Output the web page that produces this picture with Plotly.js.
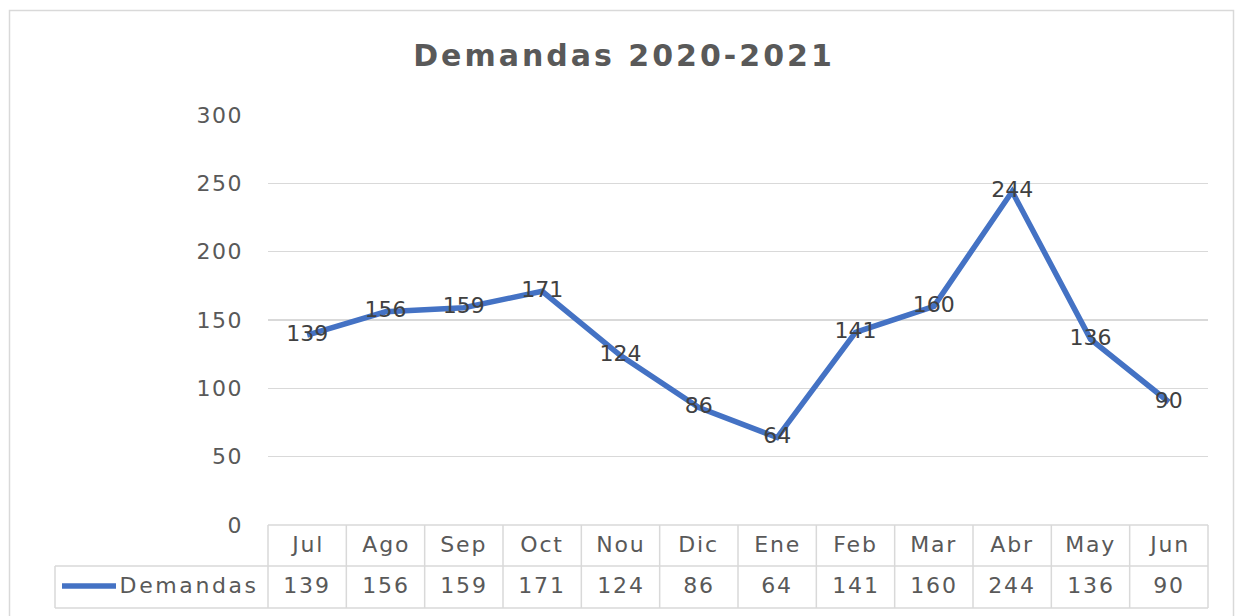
<!DOCTYPE html>
<html>
<head>
<meta charset="utf-8">
<script src="https://cdn.plot.ly/plotly-3.0.1.min.js"></script>
<style>
html,body{margin:0;padding:0;background:#fff;}
#chart{width:1241px;height:616px;}
#chart .gtitle{letter-spacing:3px;}
#chart .ytick text{letter-spacing:1.5px;}
#chart .annotation-text{letter-spacing:1.8px;}
#chart .annotation[data-index="24"] .annotation-text{letter-spacing:2.6px;}
</style>
</head>
<body>
<div id="chart"></div>
<script>
// ---- data ----
const months = ["Jul","Ago","Sep","Oct","Nou","Dic","Ene","Feb","Mar","Abr","May","Jun"];
const demandas = [139,156,159,171,124,86,64,141,160,244,136,90];
const seriesName = "Demandas";
const chartTitle = "Demandas 2020-2021";
const yTicks = [0,50,100,150,200,250,300];

// ---- layout helpers (pixel geometry) ----
const W = 1241, H = 616;
const L = 268, R = 1208, T = 115, B = 525;
const pw = R - L, ph = B - T;
const px = x => (x - L) / pw;          // pixel x -> paper x
const py = y => (B - y) / ph;          // pixel y -> paper y
const FONT = "'DejaVu Sans', sans-serif";
const TXT = "#595959";
const GRID = "#D9D9D9";
const BLUE = "#4472C4";

const n = months.length;
const idx = months.map((_, i) => i);

const trace = {
  x: idx,
  y: demandas,
  type: "scatter",
  mode: "lines+text",
  name: seriesName,
  line: {color: BLUE, width: 5.5},
  text: demandas.map(String),
  textposition: "middle center",
  textfont: {family: FONT, size: 22, color: "#404040"},
  cliponaxis: false,
  hoverinfo: "skip"
};

const shapes = [];
const line = (x0, y0, x1, y1, color, width) => shapes.push({
  type: "line", xref: "paper", yref: "paper",
  x0: x0, y0: y0, x1: x1, y1: y1,
  line: {color: color, width: width}
});
// outer chart border
shapes.push({type: "rect", xref: "paper", yref: "paper",
  x0: px(9.5), x1: px(1233.5), y0: py(630), y1: py(10.5),
  line: {color: GRID, width: 1.5}, fillcolor: "rgba(0,0,0,0)", layer: "below"});
// data table grid
const rowTop = 525, rowMid = 566, rowBot = 608, tableLeft = 55;
line(0, py(rowTop), 1, py(rowTop), GRID, 1.5);
line(px(tableLeft), py(rowMid), 1, py(rowMid), GRID, 1.5);
line(px(tableLeft), py(rowBot), 1, py(rowBot), GRID, 1.5);
line(px(tableLeft), py(rowMid), px(tableLeft), py(rowBot), GRID, 1.5);
for (let i = 0; i <= n; i++) {
  line(i / n, py(rowTop), i / n, py(rowBot), GRID, 1.5);
}
// legend key in table
line(px(62), py(586), px(116), py(586), BLUE, 5.5);

const annotations = [];
months.forEach((m, i) => {
  annotations.push({x: i, xref: "x", y: py(544), yref: "paper", text: m,
    showarrow: false, xanchor: "center", yanchor: "middle",
    font: {family: FONT, size: 22, color: TXT}});
  annotations.push({x: i, xref: "x", y: py(585), yref: "paper", text: String(demandas[i]),
    showarrow: false, xanchor: "center", yanchor: "middle",
    font: {family: FONT, size: 22, color: TXT}});
});
annotations.push({x: px(128), xref: "paper", y: py(585), yref: "paper", text: seriesName,
  showarrow: false, xanchor: "left", yanchor: "middle",
  font: {family: FONT, size: 22, color: TXT}});

const layout = {
  width: W, height: H,
  paper_bgcolor: "#ffffff",
  plot_bgcolor: "#ffffff",
  showlegend: false,
  margin: {l: L, r: W - R, t: T, b: H - B, pad: 0},
  title: {
    text: chartTitle,
    font: {family: FONT, size: 30, color: TXT, weight: "bold"},
    x: 624 / W, xref: "container", xanchor: "center",
    y: 1 - 55 / H, yref: "container", yanchor: "middle"
  },
  xaxis: {
    range: [-0.5, n - 0.5],
    showgrid: false, zeroline: false, showline: false,
    showticklabels: false, ticks: "", fixedrange: true
  },
  yaxis: {
    range: [0, 300],
    tickvals: yTicks,
    showgrid: true, gridcolor: GRID, gridwidth: 1.5,
    zeroline: false, showline: false, ticks: "",
    ticklabelstandoff: 24,
    tickfont: {family: FONT, size: 22, color: TXT},
    fixedrange: true
  },
  shapes: shapes,
  annotations: annotations
};

Plotly.newPlot("chart", [trace], layout, {displayModeBar: false, staticPlot: true});
</script>
</body>
</html>
